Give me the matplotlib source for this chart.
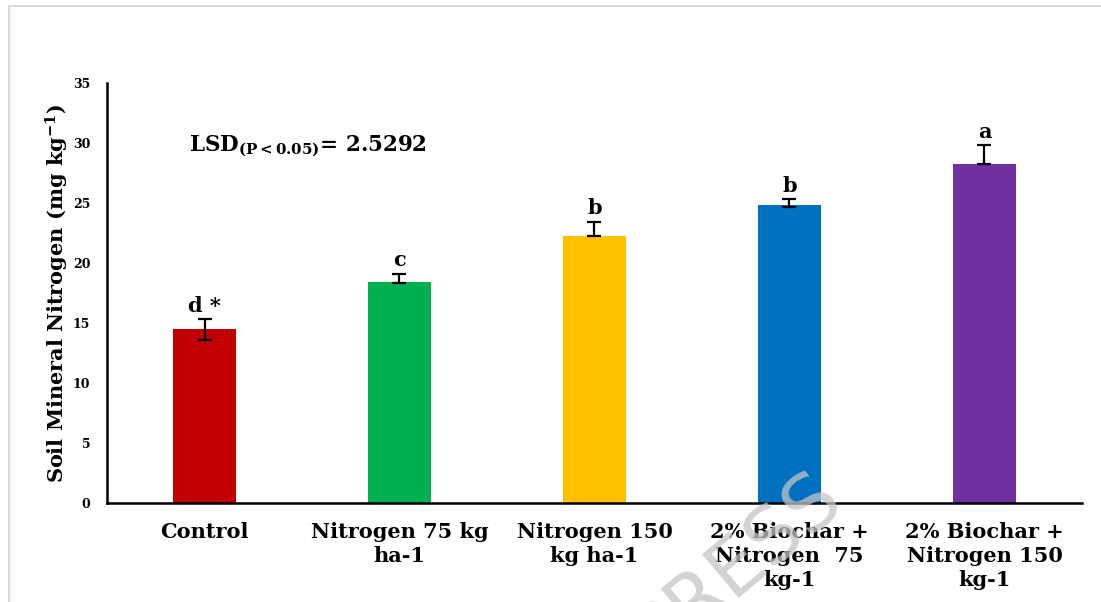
import matplotlib
matplotlib.use("Agg")
import matplotlib.pyplot as plt
from matplotlib.patches import Rectangle

categories = ["Control", "Nitrogen 75 kg\nha-1", "Nitrogen 150\nkg ha-1",
              "2% Biochar +\nNitrogen  75\nkg-1", "2% Biochar +\nNitrogen 150\nkg-1"]
values = [14.5, 18.4, 22.25, 24.8, 28.25]
err_low = [0.95, 0.05, 0.0, 0.1, 0.0]
err_high = [0.8, 0.7, 1.2, 0.5, 1.55]
letters = ["d *", "c", "b", "b", "a"]
colors = ["#C00000", "#00B050", "#FFC000", "#0070C0", "#7030A0"]
yticks = [0, 5, 10, 15, 20, 25, 30, 35]

plt.rcParams['font.family'] = ['DejaVu Serif']
plt.rcParams['mathtext.fontset'] = 'dejavuserif'
fig = plt.figure(figsize=(11.01, 6.02), dpi=100)
ax = fig.add_axes([0.0972, 0.1645, 0.8855, 0.6976])

x = list(range(len(categories)))
ax.bar(x, values, width=0.32, color=colors, zorder=2)
ax.errorbar(x, values, yerr=[err_low, err_high], fmt='none', ecolor='black',
            elinewidth=1.6, capsize=5, capthick=1.6, zorder=3)
for xi, v, eh, lab in zip(x, values, err_high, letters):
    ax.text(xi, v + eh + 0.3, lab, ha='center', va='bottom', fontsize=15,
            fontweight='bold')

ax.set_xlim(-0.5, 4.5)
ax.set_ylim(0, 35)
ax.set_yticks(yticks)
ax.set_yticklabels([str(t) for t in yticks], fontsize=9, fontweight='bold')
ax.set_xticks(x)
ax.set_xticklabels(categories, fontsize=15, fontweight='bold', linespacing=1.25)
ax.tick_params(axis='x', length=0, pad=14)
ax.tick_params(axis='y', length=0, pad=12)
for s in ['top', 'right']:
    ax.spines[s].set_visible(False)
ax.spines['left'].set_linewidth(1.8)
ax.spines['bottom'].set_linewidth(1.8)
ax.set_ylabel("Soil Mineral Nitrogen (mg kg$^{\\mathbf{-1}}$)", fontsize=15,
              fontweight='bold', labelpad=1)

ax.text(0.084, 0.85, "LSD$_{\\mathbf{(P<0.05)}}$= 2.5292", transform=ax.transAxes,
        fontsize=15.5, fontweight='bold', ha='left', va='center')

# figure frame
fig.patches.append(Rectangle((9 / 1101, -0.05), 1.2, 1 - 6 / 602 + 0.05,
                             transform=fig.transFigure, fill=False,
                             edgecolor='#D9D9D9', linewidth=1.5))
# watermark
fig.text(0.56, -0.12, "PRESS", rotation=40, fontsize=56, color='#C4C4C4',
         alpha=0.75, family='DejaVu Sans', fontweight='normal',
         ha='left', va='bottom', zorder=10)

fig.savefig("out.png", dpi=100)
